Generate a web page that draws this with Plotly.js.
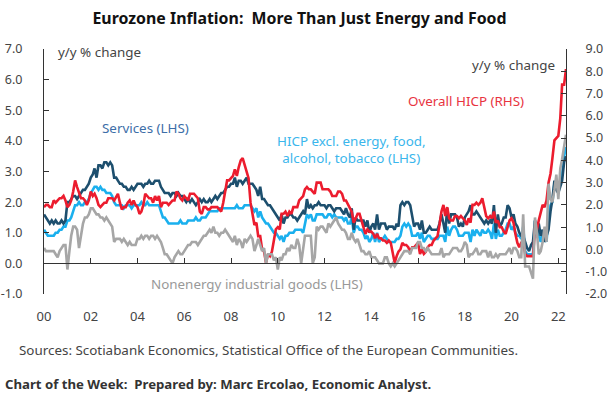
<!DOCTYPE html>
<html>
<head>
<meta charset="utf-8">
<script src="https://cdn.plot.ly/plotly-3.0.1.min.js"></script>
<style>html,body{margin:0;padding:0;background:#fff;}#chart{width:610px;height:398px;}</style>
</head>
<body>
<div id="chart"></div>
<script>
// Monthly, Jan 2000 .. May 2022 (y/y % change)
const startYear = 2000;
const nMonths = 269;

const services = [
1.6,1.5,1.4,1.3,1.4,1.3,1.4,1.3,1.3,1.4,1.3,1.4,
2.0,2.0,2.1,2.2,2.2,2.1,2.2,2.3,2.4,2.4,2.5,2.6,
2.8,2.9,3.1,2.8,3.2,3.2,3.1,3.3,3.3,3.2,3.3,3.2,
2.8,2.8,2.7,2.6,2.6,2.5,2.5,2.4,2.4,2.5,2.4,2.5,
2.6,2.6,2.6,2.5,2.6,2.6,2.7,2.6,2.6,2.7,2.7,2.7,
2.5,2.4,2.3,2.3,2.3,2.2,2.3,2.3,2.2,2.3,2.2,2.2,
2.1,2.0,2.1,2.0,2.1,2.0,1.9,2.0,2.1,2.0,2.1,2.0,
2.0,2.1,2.0,2.1,2.2,2.1,2.2,2.3,2.3,2.4,2.5,2.5,
2.6,2.6,2.8,2.5,2.7,2.7,2.6,2.7,2.8,2.6,2.6,2.6,
2.5,2.4,2.2,2.5,2.1,2.1,2.0,1.9,1.9,1.8,1.7,1.6,
1.5,1.4,1.6,1.3,1.5,1.5,1.6,1.6,1.5,1.5,1.4,1.5,
1.6,1.7,1.6,2.1,1.8,1.9,1.8,1.9,1.9,2.0,1.9,1.9,
1.9,1.8,1.9,1.9,1.8,1.7,1.8,1.8,1.8,1.7,1.6,1.8,
1.6,1.5,1.8,1.1,1.5,1.4,1.4,1.4,1.4,1.2,1.4,1.0,
1.2,1.3,1.1,1.6,1.1,1.3,1.3,1.3,1.1,1.2,1.2,1.2,
1.1,1.3,1.2,1.9,2.0,1.9,2.0,2.0,1.9,1.5,1.2,1.3,
1.3,1.1,1.4,1.0,1.0,1.1,1.2,1.1,1.1,1.1,1.1,1.3,
1.6,1.3,1.0,1.8,1.3,1.6,1.6,1.6,1.5,1.2,1.3,1.2,
1.5,1.6,1.7,1.9,1.6,1.6,1.7,1.6,1.5,1.4,1.3,1.4,
1.3,1.4,1.3,1.9,1.0,1.6,1.2,1.3,1.5,1.5,1.9,1.8,
1.5,1.6,1.3,1.2,1.0,0.9,0.9,0.7,0.5,0.4,0.6,0.7,
1.4,0.9,1.3,0.9,1.1,0.7,0.9,1.1,1.7,2.1,2.7,2.4,
2.3,2.5,2.7,3.3,3.5];

const coreHICP = [
1.1,1.0,0.9,0.9,0.9,0.9,1.0,1.0,1.1,1.1,1.2,1.2,
1.4,1.4,1.5,1.7,1.9,1.9,2.0,1.9,1.9,2.0,2.0,2.1,
2.3,2.4,2.5,2.5,2.4,2.5,2.4,2.4,2.3,2.3,2.3,2.2,
2.0,1.9,1.9,1.9,1.9,1.8,1.9,1.9,1.9,1.8,1.9,1.9,
1.9,1.9,2.0,1.9,1.9,2.0,1.9,1.9,1.9,1.9,1.9,1.9,
1.7,1.5,1.5,1.4,1.3,1.3,1.3,1.3,1.3,1.3,1.4,1.3,
1.3,1.3,1.4,1.4,1.4,1.4,1.5,1.4,1.4,1.5,1.5,1.5,
1.6,1.7,1.7,1.7,1.7,1.7,1.8,1.8,1.8,1.8,1.8,1.8,
1.8,1.8,1.8,1.9,1.8,1.8,1.8,1.9,1.9,1.9,1.9,1.8,
1.7,1.8,1.5,1.7,1.5,1.4,1.3,1.3,1.2,1.1,1.0,1.0,
0.9,0.8,0.9,0.7,0.9,0.9,1.0,1.0,1.0,1.1,1.1,1.1,
1.1,1.0,1.3,1.6,1.5,1.6,1.4,1.4,1.6,1.6,1.6,1.6,
1.5,1.5,1.6,1.6,1.5,1.6,1.5,1.5,1.5,1.5,1.4,1.5,
1.3,1.3,1.5,1.0,1.2,1.2,1.1,1.1,1.0,0.8,0.9,0.7,
0.8,1.0,0.7,1.0,0.7,0.8,0.8,0.9,0.8,0.7,0.7,0.7,
0.7,0.8,0.8,0.9,1.2,1.3,1.2,1.3,1.2,0.9,0.9,0.9,
1.0,0.8,1.0,0.7,0.8,0.9,0.9,0.8,0.8,0.8,0.8,0.9,
0.9,0.9,0.7,1.2,0.9,1.1,1.2,1.2,1.1,0.9,0.9,0.9,
1.0,1.0,1.0,0.7,1.1,0.9,1.1,1.0,0.9,1.1,1.0,1.0,
1.1,1.0,0.8,1.3,0.8,1.1,0.9,0.9,1.0,1.1,1.3,1.3,
1.1,1.2,1.0,0.9,0.9,0.8,1.2,0.4,0.3,0.3,0.3,0.3,
1.4,1.1,0.9,0.7,1.0,0.9,0.7,1.6,1.9,2.0,2.6,2.7,
2.3,2.7,2.9,3.5,3.8];

const nonEnergyGoods = [
0.5,0.4,0.4,0.4,0.4,0.4,0.3,0.2,0.4,0.5,0.6,0.6,
-0.2,0.4,0.9,1.2,1.2,1.1,0.5,0.9,1.3,1.5,1.5,1.6,
1.8,1.8,1.7,1.6,1.6,1.5,1.5,1.4,1.5,1.4,1.3,1.2,
0.7,0.8,0.8,0.8,0.7,0.8,0.7,0.6,0.7,0.6,0.6,0.6,
0.8,0.8,0.9,0.8,0.9,0.9,0.8,0.9,0.9,0.8,0.9,0.8,
0.7,0.5,0.3,0.3,0.2,0.1,0.0,0.2,0.3,0.4,0.3,0.3,
0.4,0.5,0.6,0.6,0.7,0.7,0.7,0.6,0.7,0.8,0.9,0.9,
1.0,1.1,1.0,1.2,1.0,1.0,0.9,1.0,1.0,1.1,1.0,0.9,
0.8,0.7,0.9,0.6,0.8,0.7,0.5,0.8,0.7,0.8,0.9,0.8,
0.4,0.6,0.8,0.6,0.4,0.5,0.0,0.3,0.3,0.3,0.1,0.2,
-0.2,0.2,0.1,0.3,0.3,0.5,0.4,0.6,0.5,0.5,0.8,0.6,
0.0,0.5,0.9,0.9,0.9,0.9,0.0,0.2,1.2,1.1,1.2,1.2,
1.1,1.0,1.3,1.2,1.3,1.4,1.5,1.3,1.2,1.1,1.1,1.0,
0.8,0.8,1.0,0.8,0.7,0.8,0.6,0.4,0.4,0.3,0.3,0.4,
0.2,0.2,0.2,0.1,0.0,0.0,0.0,0.2,0.2,0.0,-0.1,0.0,
-0.1,0.0,0.1,0.2,0.3,0.4,0.4,0.4,0.3,0.5,0.5,0.5,
0.7,0.7,0.5,0.5,0.4,0.5,0.4,0.3,0.3,0.3,0.3,0.3,
0.5,0.2,0.3,0.3,0.3,0.4,0.5,0.5,0.5,0.4,0.4,0.5,
0.7,0.6,0.2,0.3,0.3,0.4,0.5,0.3,0.3,0.4,0.4,0.4,
0.2,0.4,0.2,0.2,0.3,0.2,0.3,0.3,0.3,0.3,0.4,0.5,
0.3,0.5,0.5,0.4,0.2,0.2,1.6,-0.1,-0.1,-0.1,-0.3,-0.5,
1.5,1.0,0.3,0.4,0.7,1.2,0.7,2.6,2.1,2.0,2.4,2.9,
2.1,3.1,3.4,3.8,4.2];

const overallHICP = [
1.9,2.0,2.0,1.9,1.9,2.2,2.1,2.2,2.3,2.3,2.4,2.2,
1.9,2.0,2.2,2.6,3.1,2.8,2.5,2.3,2.3,2.2,2.0,2.2,
2.6,2.4,2.5,2.3,2.0,1.9,2.0,2.1,2.1,2.3,2.3,2.3,
2.2,2.4,2.5,2.1,1.8,1.9,1.9,2.1,2.2,2.0,2.2,2.0,
1.9,1.6,1.7,2.0,2.5,2.4,2.3,2.3,2.1,2.4,2.2,2.4,
1.9,2.1,2.1,2.1,2.0,2.1,2.2,2.2,2.6,2.5,2.3,2.2,
2.4,2.3,2.2,2.5,2.5,2.5,2.4,2.3,1.7,1.6,1.9,1.9,
1.8,1.8,1.9,1.9,1.9,1.9,1.8,1.7,2.1,2.6,3.1,3.1,
3.2,3.3,3.6,3.3,3.7,4.0,4.1,3.8,3.6,3.2,2.1,1.6,
1.1,1.2,0.6,0.6,0.0,-0.1,-0.6,-0.2,-0.3,-0.1,0.5,0.9,
1.0,0.9,1.6,1.6,1.7,1.5,1.7,1.6,1.9,1.9,1.9,2.2,
2.3,2.4,2.7,2.8,2.7,2.7,2.6,2.5,3.0,3.0,3.0,2.7,
2.7,2.7,2.7,2.6,2.4,2.4,2.4,2.6,2.6,2.5,2.2,2.2,
2.0,1.8,1.7,1.2,1.4,1.6,1.6,1.3,1.1,0.7,0.9,0.8,
0.8,0.7,0.5,0.7,0.5,0.5,0.4,0.4,0.3,0.4,0.3,-0.2,
-0.6,-0.3,-0.1,0.0,0.3,0.2,0.2,0.1,-0.1,0.1,0.1,0.2,
0.3,-0.2,0.0,-0.2,-0.1,0.1,0.2,0.2,0.4,0.5,0.6,1.1,
1.7,2.0,1.5,1.9,1.4,1.3,1.3,1.5,1.5,1.4,1.5,1.4,
1.3,1.1,1.4,1.2,2.0,2.0,2.1,2.0,2.1,2.3,1.9,1.5,
1.4,1.5,1.4,1.7,1.2,1.3,1.0,1.0,0.8,0.7,1.0,1.3,
1.4,1.2,0.7,0.3,0.1,0.3,0.4,-0.2,-0.3,-0.3,-0.3,-0.3,
0.9,0.9,1.3,1.6,2.0,1.9,2.2,3.0,3.4,4.1,4.9,5.0,
5.1,5.9,7.4,7.4,8.1];

const leftTickVals = [-1,0,1,2,3,4,5,6,7];
const leftTickText = ["-1.0","0.0","1.0","2.0","3.0","4.0","5.0","6.0","7.0"];
const rightTickVals = [-2,-1,0,1,2,3,4,5,6,7,8,9];
const rightTickText = ["-2.0","-1.0","0.0","1.0","2.0","3.0","4.0","5.0","6.0","7.0","8.0","9.0"];
const xTickVals = ["2000-01-01","2002-01-01","2004-01-01","2006-01-01","2008-01-01","2010-01-01","2012-01-01","2014-01-01","2016-01-01","2018-01-01","2020-01-01","2022-01-01"];
const xTickText = ["00","02","04","06","08","10","12","14","16","18","20","22"];

const dates = [];
for (let i = 0; i < nMonths; i++) {
  const y = startYear + Math.floor(i / 12);
  const m = (i % 12) + 1;
  dates.push(y + "-" + (m < 10 ? "0" + m : m) + "-01");
}
const xRange = [dates[0], dates[dates.length - 1]];

const FONT = "'Noto Sans', 'Open Sans', sans-serif";
const LW = 2.6;
const ANN = 13.4;

const traces = [
  {x: dates, y: nonEnergyGoods, xaxis: "x2", yaxis: "y", mode: "lines", line: {color: "#a6a6a6", width: LW}, name: "Nonenergy industrial goods (LHS)"},
  {x: dates, y: coreHICP, xaxis: "x", yaxis: "y", mode: "lines", line: {color: "#1ab0ee", width: LW}, name: "HICP excl. energy, food, alcohol, tobacco (LHS)"},
  {x: dates, y: services, xaxis: "x", yaxis: "y", mode: "lines", line: {color: "#1d4f6e", width: LW}, name: "Services (LHS)"},
  {x: dates, y: overallHICP, xaxis: "x", yaxis: "y2", mode: "lines", line: {color: "#ec1c2e", width: LW}, name: "Overall HICP (RHS)"}
];

const px = v => (v - 44) / 522;
const py = v => (294 - v) / 245;

const layout = {
  width: 610, height: 398,
  margin: {l: 44, r: 44, t: 49, b: 104},
  paper_bgcolor: "#ffffff", plot_bgcolor: "#ffffff",
  showlegend: false,
  font: {family: FONT, color: "#444", size: 13},
  title: {
    text: "<b>Eurozone Inflation:\u00a0 More Than Just Energy and Food</b>",
    x: 0.491, xanchor: "center", y: 1 - 18/398, yanchor: "middle",
    font: {family: FONT, size: 15.9, color: "#111"}
  },
  xaxis: {
    type: "date", range: xRange,
    tickmode: "array", tickvals: xTickVals, ticktext: xTickText,
    showgrid: false, zeroline: false, showline: false,
    ticks: "outside", ticklen: 10, tickcolor: "rgba(0,0,0,0)",
    tickfont: {family: FONT, size: 13, color: "#444"}
  },
  xaxis2: {
    type: "date", range: xRange, overlaying: "x", anchor: "free", position: 0.125,
    tickmode: "array", tickvals: xTickVals, showticklabels: false,
    showgrid: false, zeroline: false, showline: true, linecolor: "#333", linewidth: 1,
    ticks: "inside", ticklen: 5, tickcolor: "#333", tickwidth: 1
  },
  yaxis: {
    range: [-1, 7], tickmode: "array", tickvals: leftTickVals, ticktext: leftTickText,
    showgrid: false, zeroline: false, showline: true, linecolor: "#333", linewidth: 1,
    ticks: "inside", ticklen: 5, tickcolor: "#333",
    ticklabelstandoff: 18,
    tickfont: {family: FONT, size: 12.5, color: "#444"}
  },
  yaxis2: {
    range: [-2, 9], overlaying: "y", side: "right",
    tickmode: "array", tickvals: rightTickVals, ticktext: rightTickText,
    showgrid: false, zeroline: false, showline: true, linecolor: "#333", linewidth: 1,
    ticks: "inside", ticklen: 5, tickcolor: "#333",
    ticklabelstandoff: 16,
    tickfont: {family: FONT, size: 12.5, color: "#444"}
  },
  annotations: [
    {xref: "paper", yref: "paper", x: px(56), y: py(52), xanchor: "left", yanchor: "middle", showarrow: false,
     text: "y/y % change", font: {family: FONT, size: ANN, color: "#444"}},
    {xref: "paper", yref: "paper", x: px(557), y: py(65), xanchor: "right", yanchor: "middle", showarrow: false,
     text: "y/y % change", font: {family: FONT, size: ANN, color: "#444"}},
    {xref: "paper", yref: "paper", x: px(145), y: py(128), xanchor: "center", yanchor: "middle", showarrow: false,
     text: "Services (LHS)", font: {family: FONT, size: ANN, color: "#3d6ea8"}},
    {xref: "paper", yref: "paper", x: px(351), y: py(149), xanchor: "center", yanchor: "middle", showarrow: false,
     text: "HICP excl. energy, food,<br>alcohol, tobacco (LHS)", font: {family: FONT, size: ANN, color: "#3bb6ec"}},
    {xref: "paper", yref: "paper", x: px(466), y: py(101), xanchor: "center", yanchor: "middle", showarrow: false,
     text: "Overall HICP (RHS)", font: {family: FONT, size: ANN, color: "#e8343f"}},
    {xref: "paper", yref: "paper", x: px(257), y: py(284), xanchor: "center", yanchor: "middle", showarrow: false,
     text: "Nonenergy industrial goods (LHS)", font: {family: FONT, size: ANN, color: "#999"}},
    {xref: "paper", yref: "paper", x: px(17), y: py(350), xanchor: "left", yanchor: "middle", showarrow: false,
     text: "Sources: Scotiabank Economics, Statistical Office of the European Communities.", font: {family: FONT, size: 13.4, color: "#444"}},
    {xref: "paper", yref: "paper", x: px(3), y: py(384), xanchor: "left", yanchor: "middle", showarrow: false,
     text: "<b>Chart of the Week:\u00a0 Prepared by: Marc Ercolao, Economic Analyst.</b>", font: {family: FONT, size: 13.2, color: "#333"}}
  ]
};

Plotly.newPlot("chart", traces, layout, {staticPlot: true, displayModeBar: false});
</script>
</body>
</html>
